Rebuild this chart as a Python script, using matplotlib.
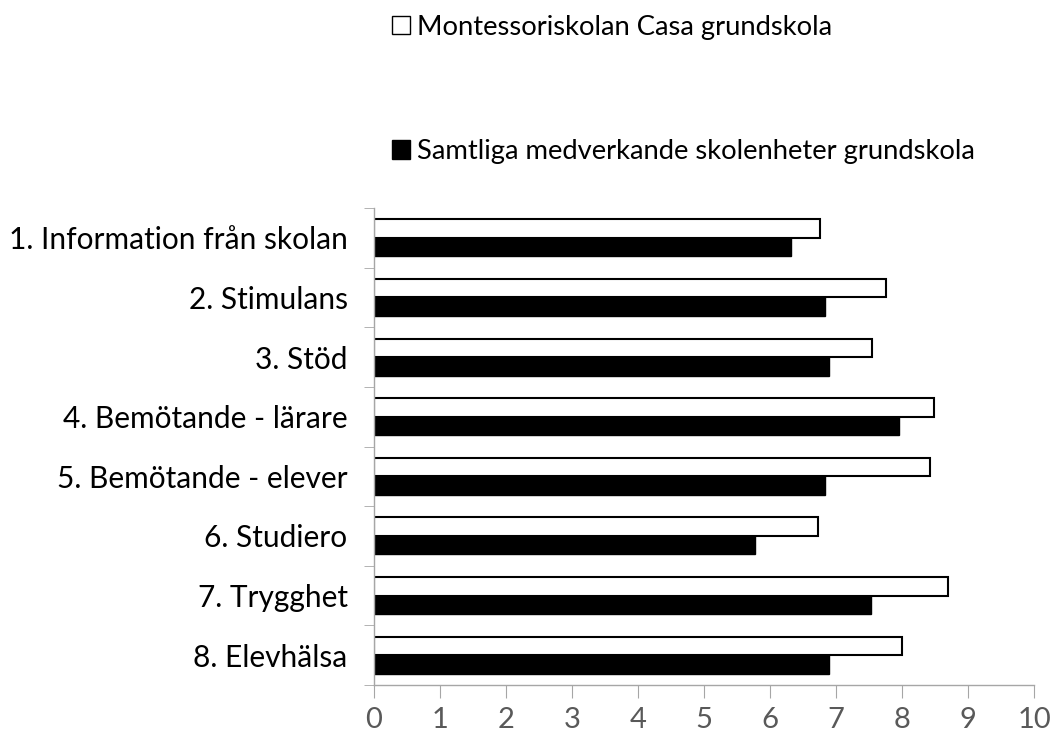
import numpy as np
import matplotlib.pyplot as plt
from matplotlib.patches import Patch

plt.rcParams['font.family'] = ['Lato', 'DejaVu Sans']

categories = ['1. Information från skolan', '2. Stimulans', '3. Stöd',
              '4. Bemötande - lärare', '5. Bemötande - elever', '6. Studiero',
              '7. Trygghet', '8. Elevhälsa']
casa = [6.76, 7.76, 7.55, 8.49, 8.42, 6.73, 8.70, 8.00]
samtliga = [6.32, 6.83, 6.89, 7.95, 6.83, 5.77, 7.53, 6.89]
label_casa = 'Montessoriskolan Casa grundskola'
label_all = 'Samtliga medverkande skolenheter grundskola'

fig = plt.figure(figsize=(10.52, 7.35), dpi=100)
ax = fig.add_axes([374 / 1052, 1 - 685 / 735, 660 / 1052, 477 / 735])

y = np.arange(len(categories))
h = 0.31
ax.barh(y - h / 2, casa, height=h, color='white', edgecolor='black', linewidth=1.5)
ax.barh(y + h / 2, samtliga, height=h, color='black', edgecolor='black', linewidth=1)

ax.set_ylim(len(categories) - 0.5, -0.5)
ax.set_xlim(0, 10)
ax.set_xticks(range(11))
ax.set_yticks(np.arange(len(categories) + 1) - 0.5, minor=True)
ax.set_yticks(y)
ax.set_yticklabels(categories)
ax.tick_params(axis='y', which='major', length=0, pad=19, labelsize=21.5, labelcolor='black')
ax.tick_params(axis='y', which='minor', length=7, color='#a6a6a6')
ax.tick_params(axis='x', length=9, color='#a6a6a6', labelsize=21, labelcolor='#595959', pad=7)

for s in ['top', 'right']:
    ax.spines[s].set_visible(False)
for s in ['left', 'bottom']:
    ax.spines[s].set_color('#a6a6a6')
    ax.spines[s].set_linewidth(1)

handles = [Patch(facecolor='white', edgecolor='black', linewidth=1),
           Patch(facecolor='black', edgecolor='black')]
fig.legend(handles, [label_casa, label_all], loc='upper left',
           bbox_to_anchor=(381 / 1052, 1 - 4 / 735), frameon=False,
           fontsize=19.7, labelspacing=3.62, handlelength=0.65, handleheight=0.65,
           handletextpad=0.25, borderaxespad=0)

fig.savefig('out.png', dpi=100)
